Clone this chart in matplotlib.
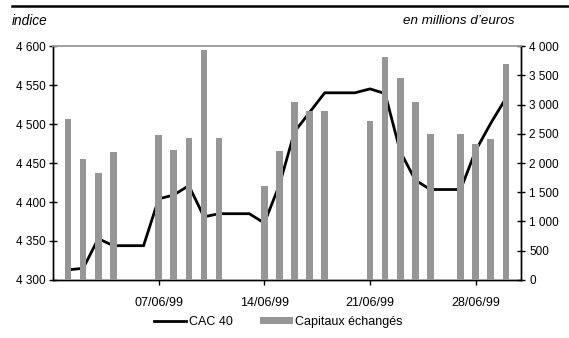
import numpy as np
import matplotlib
matplotlib.use("Agg")
import matplotlib.pyplot as plt
import matplotlib.dates as mdates
from matplotlib.lines import Line2D
from matplotlib.patches import Patch
from matplotlib.ticker import FuncFormatter
import datetime as dt

plt.rcParams['font.family'] = ['Liberation Sans', 'DejaVu Sans']

# CAC 40, valeur quotidienne (week-ends = valeur du vendredi)
cac_days = list(range(1, 31))
cac_values = [4313, 4315, 4353, 4344, 4344, 4344, 4404, 4409, 4421, 4381,
              4385, 4385, 4385, 4373, 4422, 4490, 4515, 4540, 4540, 4540,
              4545, 4539, 4465, 4428, 4416, 4416, 4416, 4466, 4501, 4533]

# Capitaux échangés (millions d'euros)
cap_days = [1, 2, 3, 4, 7, 8, 9, 10, 11, 14, 15, 16, 17, 18,
            21, 22, 23, 24, 25, 27, 28, 29, 30]
cap_values = [2750, 2070, 1830, 2185, 2475, 2225, 2425, 3925, 2425, 1610,
              2200, 3040, 2890, 2890, 2720, 3810, 3450, 3040, 2490, 2490,
              2320, 2405, 3690]

tick_days = [7, 14, 21, 28]

cac_dates = [dt.datetime(1999, 6, d) for d in cac_days]
cap_dates = [dt.datetime(1999, 6, d) for d in cap_days]

fig = plt.figure(figsize=(5.69, 3.38), dpi=100)
ax = fig.add_axes([0.0931, 0.1716, 0.8225, 0.6923])
ax2 = ax.twinx()

ax.plot(cac_dates, cac_values, color='black', lw=2.0, solid_joinstyle='miter')
ax2.bar(cap_dates, cap_values, width=0.44, color='#969696', zorder=3)

ax.set_xlim(dt.datetime(1999, 5, 31), dt.datetime(1999, 7, 1))
ax.set_ylim(4300, 4600)
ax2.set_ylim(0, 4000)

sep = lambda v, p: f"{int(v):,}".replace(",", " ")
ax.set_yticks(np.arange(4300, 4601, 50))
ax.yaxis.set_major_formatter(FuncFormatter(sep))
ax2.set_yticks(np.arange(0, 4001, 500))
ax2.yaxis.set_major_formatter(FuncFormatter(sep))

ax.set_xticks([dt.datetime(1999, 6, d) for d in tick_days])
ax.xaxis.set_major_formatter(mdates.DateFormatter('%d/%m/%y'))

ax.tick_params(axis='y', direction='inout', length=6, width=1, pad=2, labelsize=8.5)
ax2.tick_params(axis='y', direction='inout', length=6, width=1, pad=3, labelsize=8.5)
ax.tick_params(axis='x', direction='out', length=3.5, width=1, pad=8.5, labelsize=9)

for a in (ax, ax2):
    a.spines['top'].set_color('#a0a0a0')
    a.spines['top'].set_linewidth(1.2)
    for s in ('left', 'right', 'bottom'):
        a.spines[s].set_color('black')
        a.spines[s].set_linewidth(1.0)

fig.text(0.021, 0.938, 'indice', style='italic', fontsize=9.8, va='center', ha='left')
fig.text(0.904, 0.938, 'en millions d\u2019euros', style='italic', fontsize=9.6,
         va='center', ha='right')
fig.add_artist(Line2D([0.021, 1.0], [0.982, 0.982], color='black', lw=1.8,
                      transform=fig.transFigure))

handles = [Line2D([], [], color='black', lw=2.0),
           Patch(facecolor='#969696', edgecolor='none')]
fig.legend(handles, ['CAC 40', 'Capitaux échangés'], loc='center',
           bbox_to_anchor=(0.489, 0.047), ncol=2, frameon=False, fontsize=9,
           handlelength=2.6, handleheight=0.5, handletextpad=0.2,
           columnspacing=2.2)

fig.savefig('out.png', dpi=100)
